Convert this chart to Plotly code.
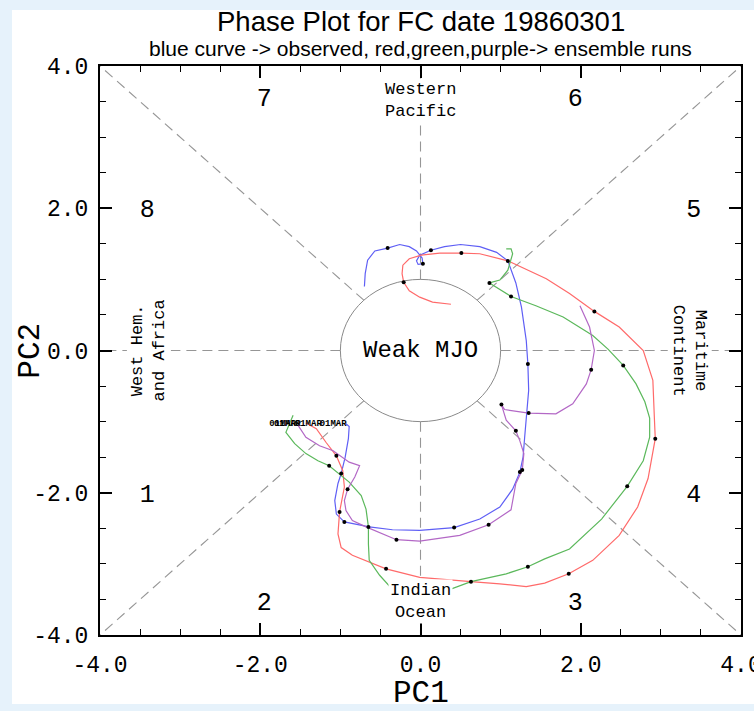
import plotly.graph_objects as go

# ---------------- data ----------------
blue_x = [-0.93, -0.89, -0.90, -0.94, -0.99, -1.03, -1.07, -1.05, -0.95, -0.64, -0.35, -0.01, 0.42, 0.74, 0.99, 1.15,
          1.24, 1.28, 1.30, 1.33, 1.35, 1.34, 1.32, 1.26, 1.19, 1.09, 0.95, 0.74, 0.50, 0.30, 0.13, -0.01, -0.05,
          -0.03, 0.03, 0.02, -0.05, -0.14, -0.26, -0.41, -0.57, -0.66, -0.69, -0.70]
blue_y = [-1.03, -1.07, -1.24, -1.50, -1.73, -1.87, -2.11, -2.30, -2.41, -2.48, -2.52, -2.53, -2.49, -2.37, -2.20, -1.95,
          -1.71, -1.50, -1.22, -0.85, -0.56, -0.19, 0.14, 0.61, 0.95, 1.26, 1.38, 1.46, 1.49, 1.46, 1.41, 1.34, 1.26,
          1.21, 1.22, 1.30, 1.40, 1.46, 1.49, 1.44, 1.40, 1.27, 1.08, 0.90]

red_x = [-1.43, -1.30, -1.18, -1.05, -0.97, -0.95, -1.01, -1.03, -0.99, -0.85, -0.43, -0.01, 0.63, 0.99, 1.32, 1.55,
         1.85, 2.15, 2.48, 2.71, 2.84, 2.90, 2.93, 2.92, 2.90, 2.78, 2.48, 2.17, 1.86, 1.57, 1.09, 0.74, 0.51, 0.24,
         0.01, -0.14, -0.22, -0.23, -0.21, -0.14, -0.01, 0.15, 0.38]
red_y = [-1.02, -1.10, -1.29, -1.48, -1.69, -1.92, -2.27, -2.58, -2.77, -2.88, -3.07, -3.19, -3.25, -3.28, -3.32, -3.27,
         -3.14, -2.95, -2.60, -2.20, -1.80, -1.45, -1.24, -0.98, -0.42, 0.00, 0.33, 0.55, 0.80, 1.01, 1.26, 1.36, 1.37,
         1.37, 1.34, 1.29, 1.20, 1.08, 0.96, 0.84, 0.75, 0.68, 0.65]

green_x = [-1.59, -1.64, -1.68, -1.57, -1.43, -1.28, -1.14, -0.89, -0.74, -0.68, -0.65, -0.65, -0.64, -0.51, -0.39,
           -0.05, 0.32, 0.63, 1.07, 1.34, 1.55, 1.86, 2.26, 2.58, 2.78, 2.86, 2.86, 2.80, 2.69, 2.53, 2.34, 2.15, 1.78,
           1.44, 1.13, 0.86, 0.99, 1.09, 1.15, 1.13, 1.07]
green_y = [-0.91, -1.03, -1.15, -1.31, -1.45, -1.55, -1.62, -1.85, -2.04, -2.23, -2.48, -2.72, -2.95, -3.16, -3.31,
           -3.38, -3.38, -3.25, -3.14, -3.04, -2.93, -2.79, -2.37, -1.91, -1.55, -1.22, -0.95, -0.72, -0.47, -0.21, 0.02,
           0.21, 0.47, 0.63, 0.76, 0.95, 0.99, 1.13, 1.36, 1.43, 1.43]

purple_x = [-1.53, -1.43, -1.26, -1.09, -0.89, -0.76, -0.82, -0.91, -0.95, -0.93, -0.85, -0.68, -0.30, -0.01, 0.49,
            0.85, 1.13, 1.19, 1.27, 1.29, 1.24, 1.19, 1.07, 1.01, 1.05, 1.35, 1.69, 1.90, 2.07, 2.13, 2.17, 2.11, 1.99]
purple_y = [-1.05, -1.22, -1.34, -1.41, -1.57, -1.62, -1.78, -1.95, -2.11, -2.25, -2.39, -2.48, -2.66, -2.68, -2.60,
            -2.45, -2.24, -1.87, -1.68, -1.45, -1.27, -1.13, -0.98, -0.76, -0.83, -0.88, -0.89, -0.75, -0.47, -0.27,
            0.00, 0.33, 0.63]

# daily marker dots
blue_dot_x = [-0.99, -0.95, 0.42, 1.24, 1.34, 0.13, 0.03, -0.41]
blue_dot_y = [-1.73, -2.41, -2.49, -1.71, -0.19, 1.41, 1.22, 1.44]
red_dot_x = [-1.05, -1.01, -0.43, 0.63, 1.85, 2.93, 2.17, 1.09, 0.51, -0.21]
red_dot_y = [-1.48, -2.27, -3.07, -3.25, -3.14, -1.24, 0.55, 1.26, 1.37, 0.96]
green_dot_x = [-1.14, -0.65, 1.34, 2.58, 2.53, 1.13, 0.86]
green_dot_y = [-1.62, -2.48, -3.04, -1.91, -0.21, 0.76, 0.95]
purple_dot_x = [-0.91, -0.30, 0.85, 1.27, 1.19, 1.01, 1.35, 2.13]
purple_dot_y = [-1.95, -2.66, -2.45, -1.68, -1.13, -0.76, -0.88, -0.27]

# start-date labels
start_label_x = [-1.72, -1.66, -1.40, -1.09]
start_label_y = [-1.03, -1.03, -1.03, -1.03]
start_label_text = ["01MAR", "01MAR", "01MAR", "01MAR"]

# phase numbers
phase_text = ["1", "2", "3", "4", "5", "6", "7", "8"]
phase_x = [-3.41, -1.95, 1.93, 3.41, 3.41, 1.93, -1.95, -3.41]
phase_y = [-2.04, -3.56, -3.56, -2.04, 1.97, 3.52, 3.52, 1.97]

tick_vals = [-4, -2, 0, 2, 4]
tick_text = ["-4.0", "-2.0", "0.0", "2.0", "4.0"]

BLUE = "#5f5ff5"
RED = "#ff6a6a"
GREEN = "#5bb85b"
PURPLE = "#b368c6"
MONO = "Liberation Mono"
SANS = "Liberation Sans"

fig = go.Figure()

for xs, ys, col in [(blue_x, blue_y, BLUE), (red_x, red_y, RED),
                    (green_x, green_y, GREEN), (purple_x, purple_y, PURPLE)]:
    fig.add_trace(go.Scatter(x=xs, y=ys, mode="lines", line=dict(color=col, width=1.2),
                             hoverinfo="skip", showlegend=False))

for xs, ys in [(blue_dot_x, blue_dot_y), (red_dot_x, red_dot_y),
               (green_dot_x, green_dot_y), (purple_dot_x, purple_dot_y)]:
    fig.add_trace(go.Scatter(x=xs, y=ys, mode="markers", marker=dict(color="black", size=4),
                             hoverinfo="skip", showlegend=False))

fig.add_trace(go.Scatter(x=start_label_x, y=start_label_y, mode="text", text=start_label_text,
                         textfont=dict(family=MONO, size=9, color="black", weight="bold"),
                         hoverinfo="skip", showlegend=False))

fig.add_trace(go.Scatter(x=phase_x, y=phase_y, mode="text", text=phase_text,
                         textfont=dict(family=MONO, size=25, color="black"),
                         hoverinfo="skip", showlegend=False))

# phase boundaries
shapes = []
dash_style = dict(color="#969696", width=1.1, dash="10px,6px")
r = 2 ** -0.5
for sx, sy in [(1, 1), (1, -1), (-1, 1), (-1, -1)]:
    shapes.append(dict(type="line", xref="x", yref="y", x0=sx * r, y0=sy * r, x1=sx * 4, y1=sy * 4,
                       line=dash_style, layer="below"))
for x0, y0, x1, y1 in [(1, 0, 4, 0), (-1, 0, -4, 0), (0, 1, 0, 4), (0, -1, 0, -4)]:
    shapes.append(dict(type="line", xref="x", yref="y", x0=x0, y0=y0, x1=x1, y1=y1,
                       line=dash_style, layer="below"))
shapes.append(dict(type="circle", xref="x", yref="y", x0=-1, y0=-1, x1=1, y1=1,
                   line=dict(color="#8a8a8a", width=1), layer="below"))
# white page area
shapes.insert(0, dict(type="rect", xref="paper", yref="paper", x0=-0.1373, x1=1.03, y0=-0.1213, y1=1.0984,
                      fillcolor="white", line=dict(width=0), layer="below"))

annotations = [
    dict(text="Phase Plot for FC date 19860301", xref="paper", yref="paper", x=0.5, y=1.079,
         xanchor="center", yanchor="middle", showarrow=False, font=dict(family=SANS, size=27.5, color="black")),
    dict(text="blue curve -> observed, red,green,purple-> ensemble runs", xref="paper", yref="paper",
         x=0.5, y=1.0316, xanchor="center", yanchor="middle", showarrow=False,
         font=dict(family=SANS, size=21, color="black")),
    dict(text="PC1", xref="paper", yref="paper", x=0.5, y=-0.103, xanchor="center", yanchor="middle",
         showarrow=False, font=dict(family=MONO, size=31, color="black")),
    dict(text="PC2", xref="paper", yref="paper", x=-0.109, y=0.5, xanchor="center", yanchor="middle",
         textangle=-90, showarrow=False, font=dict(family=MONO, size=31, color="black")),
    dict(text="Weak MJO", x=0, y=0, xref="x", yref="y", showarrow=False,
         font=dict(family=MONO, size=24, color="black")),
    dict(text="Western<br>Pacific", x=0, y=3.52, xref="x", yref="y", showarrow=False, bgcolor="white",
         font=dict(family=MONO, size=17, color="black")),
    dict(text="Indian<br>Ocean", x=0, y=-3.53, xref="x", yref="y", showarrow=False, bgcolor="white",
         font=dict(family=MONO, size=17, color="black")),
    dict(text="West Hem.<br>and Africa", x=-3.39, y=0, xref="x", yref="y", showarrow=False, bgcolor="white",
         textangle=-90, font=dict(family=MONO, size=17, color="black")),
    dict(text="Maritime<br>Continent", x=3.36, y=0, xref="x", yref="y", showarrow=False, bgcolor="white",
         textangle=90, font=dict(family=MONO, size=17, color="black")),
]

axis_common = dict(range=[-4, 4], tickvals=tick_vals, ticktext=tick_text, ticks="inside", ticklen=12,
                   tickwidth=2, tickcolor="black", showline=True, linewidth=2, linecolor="black",
                   mirror="ticks", showgrid=False, zeroline=False, automargin=False,
                   ticklabeloverflow="allow",
                   tickfont=dict(family=MONO, size=23, color="black"),
                   minor=dict(dtick=0.5, ticks="inside", ticklen=6, tickwidth=1, tickcolor="black",
                              showgrid=False))

fig.update_layout(
    width=754, height=711, autosize=False,
    margin=dict(l=100, r=13, t=66, b=76, pad=0),
    paper_bgcolor="#e6f2fb", plot_bgcolor="white",
    xaxis=dict(**axis_common, ticklabelstandoff=7),
    yaxis=dict(**axis_common, ticklabelstandoff=5),
    shapes=shapes, annotations=annotations, showlegend=False,
)

fig.write_html("out.html", config={"displayModeBar": False},
               post_script="document.body.style.margin='0px';document.body.style.overflow='hidden';")
